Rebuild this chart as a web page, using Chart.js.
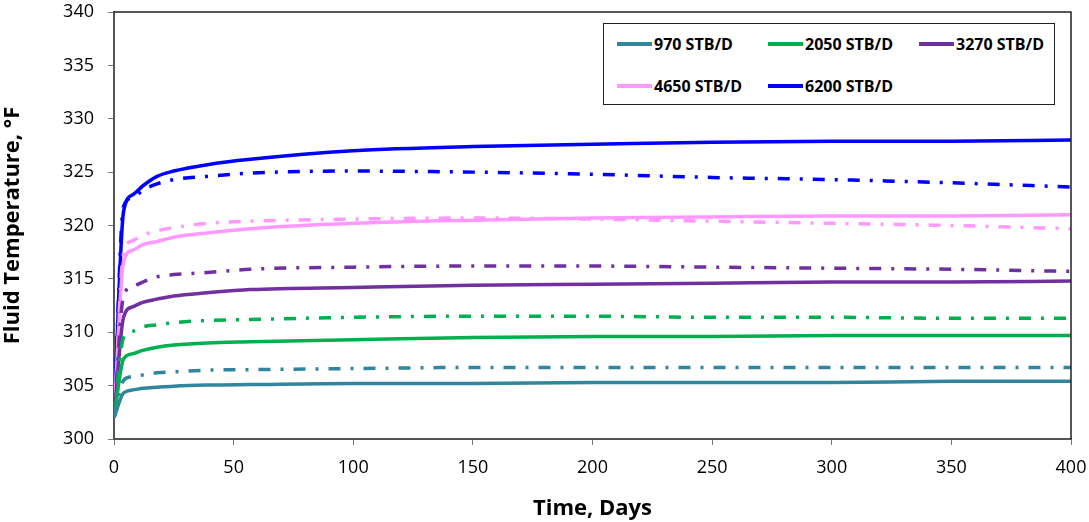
<!DOCTYPE html>
<html>
<head>
<meta charset="utf-8">
<script src="https://cdn.jsdelivr.net/npm/chart.js@4.4.1/dist/chart.umd.min.js"></script>
<style>
  body { margin: 0; background: #fff; }
  #wrap { position: relative; width: 1089px; height: 522px; }
  #legend {
    position: absolute; left: 603px; top: 23px; width: 450px; height: 80px;
    border: 1.5px solid #222; background: #fff;
    font-family: "Open Sans", sans-serif; font-weight: bold; font-size: 16px; color: #000;
  }
  .item { position: absolute; display: flex; align-items: center; white-space: nowrap; }
  .item span.line { display: inline-block; width: 35px; height: 4px; margin-right: 2px; }
</style>
</head>
<body>
<div id="wrap">
  <canvas id="c" width="1089" height="522"></canvas>
  <div id="legend"></div>
</div>
<script>
  // days
  const days = [0, 4, 8, 12, 18, 25, 39, 57, 100, 150, 200, 250, 300, 350, 400];

  const rates = ['970 STB/D', '2050 STB/D', '3270 STB/D', '4650 STB/D', '6200 STB/D'];
  const colors = ['#31859C', '#00B050', '#7030A0', '#FF99FF', '#0000FF'];

  // solid curves
  const t970 = [302, 304.3, 304.6, 304.75, 304.85, 304.95, 305.05, 305.1, 305.2, 305.2, 305.3, 305.3, 305.3, 305.4, 305.4];
  const t2050 = [302, 307.5, 308.0, 308.3, 308.6, 308.8, 309.0, 309.1, 309.3, 309.5, 309.6, 309.6, 309.7, 309.7, 309.7];
  const t3270 = [302, 311.4, 312.4, 312.8, 313.1, 313.4, 313.7, 314.0, 314.2, 314.4, 314.5, 314.6, 314.7, 314.7, 314.8];
  const t4650 = [302, 316.6, 317.7, 318.2, 318.5, 318.9, 319.3, 319.7, 320.2, 320.5, 320.7, 320.8, 320.9, 320.9, 321.0];
  const t6200 = [302, 321.3, 322.9, 323.7, 324.6, 325.1, 325.7, 326.2, 327.0, 327.4, 327.6, 327.8, 327.9, 327.9, 328.0];

  // dash-dot curves
  const d970 = [302, 305.5, 305.85, 306.0, 306.2, 306.3, 306.45, 306.5, 306.6, 306.7, 306.7, 306.7, 306.7, 306.7, 306.7];
  const d2050 = [302, 309.5, 310.1, 310.5, 310.7, 310.9, 311.1, 311.2, 311.4, 311.5, 311.5, 311.4, 311.4, 311.3, 311.3];
  const d3270 = [302, 313.4, 314.3, 314.7, 315.2, 315.4, 315.6, 315.9, 316.1, 316.2, 316.2, 316.1, 316.0, 315.9, 315.7];
  const d4650 = [302, 317.4, 318.6, 319.1, 319.5, 319.8, 320.2, 320.4, 320.6, 320.7, 320.6, 320.4, 320.2, 320.0, 319.7];
  const d6200 = [302, 321.8, 322.6, 323.3, 323.9, 324.3, 324.6, 324.9, 325.1, 325.0, 324.8, 324.5, 324.3, 324.0, 323.6];

  const solid = [t970, t2050, t3270, t4650, t6200];
  const dashed = [d970, d2050, d3270, d4650, d6200];

  const pts = arr => arr.map((v, i) => ({ x: days[i], y: v }));

  const datasets = [];
  dashed.forEach((arr, i) => {
    datasets.push({
      label: '', data: pts(arr), borderColor: colors[i], borderWidth: 3.5,
      borderDash: [12, 10, 3, 10], pointRadius: 0, fill: false, cubicInterpolationMode: 'monotone'
    });
  });
  solid.forEach((arr, i) => {
    datasets.push({
      label: rates[i], data: pts(arr), borderColor: colors[i], borderWidth: 3.5,
      pointRadius: 0, fill: false, cubicInterpolationMode: 'monotone'
    });
  });

  // frame around plot area
  const frame = {
    id: 'frame',
    afterDraw(chart) {
      const a = chart.chartArea, c = chart.ctx;
      c.save();
      c.strokeStyle = '#222';
      c.lineWidth = 1.5;
      c.beginPath();
      c.moveTo(a.left, a.top); c.lineTo(a.right, a.top); c.lineTo(a.right, a.bottom);
      c.stroke();
      c.restore();
    }
  };

  const tickFont = { family: 'Open Sans', size: 18 };
  const titleFont = { family: 'Open Sans', size: 22, weight: 'bold' };

  new Chart(document.getElementById('c'), {
    type: 'line',
    data: { datasets },
    plugins: [frame],
    options: {
      responsive: false,
      animation: false,
      layout: { padding: 0 },
      plugins: { legend: { display: false }, tooltip: { enabled: false } },
      scales: {
        x: {
          type: 'linear', min: 0, max: 400,
          ticks: { stepSize: 50, color: '#000', font: tickFont, padding: 12 },
          grid: { drawOnChartArea: false, drawTicks: true, tickLength: 6, color: '#777' },
          border: { color: '#555', width: 2 },
          title: { display: true, text: 'Time, Days', color: '#000', font: titleFont, padding: 0 },
          afterFit(s) { s.height = 83; s.paddingLeft = 0; s.paddingRight = 18; }
        },
        y: {
          min: 300, max: 340,
          ticks: { stepSize: 5, color: '#000', font: tickFont, padding: 14 },
          grid: { drawOnChartArea: false, drawTicks: true, tickLength: 6, color: '#777' },
          border: { color: '#555', width: 2 },
          title: { display: true, text: 'Fluid Temperature, °F', color: '#000', font: titleFont, padding: 0 },
          afterFit(s) { s.width = 114; s.paddingTop = 12; s.paddingBottom = 0; }
        }
      }
    }
  });

  // legend inside plot
  const legend = document.getElementById('legend');
  const slots = [[13, 20], [164, 20], [315, 20], [13, 62], [164, 62]];
  rates.forEach((r, i) => {
    const el = document.createElement('div');
    el.className = 'item';
    el.style.left = slots[i][0] + 'px';
    el.style.top = (slots[i][1] - 11) + 'px';
    el.innerHTML = '<span class="line" style="background:' + colors[i] + '"></span>' + r;
    legend.appendChild(el);
  });
</script>
</body>
</html>
